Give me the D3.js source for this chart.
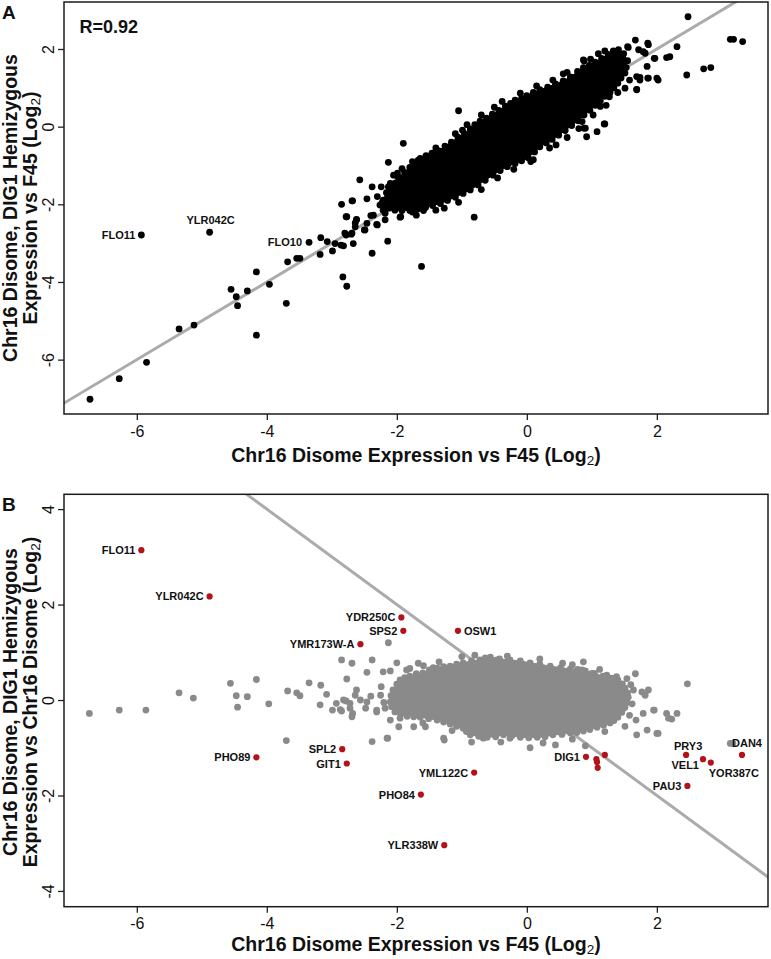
<!DOCTYPE html>
<html><head><meta charset="utf-8">
<script src="https://cdn.jsdelivr.net/npm/d3@7"></script>
<style>body{margin:0;background:#fff}svg{display:block}</style>
</head><body><svg id="c" width="771" height="959"></svg>
<script>
// ---------------- data ----------------
const xTicks = [-6, -4, -2, 0, 2];
const yTicksA = [-6, -4, -2, 0, 2];
const yTicksB = [-4, -2, 0, 2, 4];
const xDomain = [-7.12, 3.71];
const yDomainA = [-7.40, 3.21];
const yDomainB = [-4.33, 4.31];
const corrText = "R=0.92";
const fitA = {slope: 1, intercept: 0};
const fitB = {slope: -1, intercept: 0};

// dense core of panel A (genes on the outline of the overlapping dots, data coords)
const coreA = [[-2.21,-1.89],[-2.16,-1.70],[-2.13,-1.55],[-2.02,-1.45],[-1.98,-1.30],[-1.88,-1.18],[-1.80,-1.05],[-1.70,-0.95],[-1.64,-0.82],[-1.55,-0.75],[-1.46,-0.68],[-1.36,-0.62],[-1.26,-0.50],[-1.16,-0.40],[-1.06,-0.27],[-0.96,-0.18],[-0.87,-0.06],[-0.80,0.05],[-0.72,0.14],[-0.62,0.22],[-0.53,0.32],[-0.43,0.42],[-0.33,0.53],[-0.25,0.60],[-0.18,0.68],[-0.08,0.73],[0.00,0.80],[0.10,0.88],[0.20,0.95],[0.32,1.02],[0.44,1.10],[0.56,1.18],[0.67,1.28],[0.78,1.42],[0.87,1.52],[0.96,1.58],[1.05,1.66],[1.15,1.76],[1.25,1.86],[1.33,1.95],[1.41,1.98],[1.49,1.88],[1.55,1.70],[1.53,1.52],[1.51,1.38],[1.45,1.25],[1.40,1.12],[1.34,1.00],[1.28,0.88],[1.20,0.78],[1.13,0.66],[1.05,0.55],[0.97,0.42],[0.88,0.30],[0.79,0.15],[0.69,0.03],[0.59,-0.10],[0.49,-0.22],[0.39,-0.33],[0.30,-0.42],[0.20,-0.52],[0.12,-0.65],[0.02,-0.80],[-0.08,-0.88],[-0.18,-0.95],[-0.30,-1.03],[-0.41,-1.13],[-0.52,-1.25],[-0.64,-1.38],[-0.75,-1.50],[-0.87,-1.63],[-0.98,-1.72],[-1.10,-1.82],[-1.22,-1.90],[-1.33,-1.98],[-1.45,-2.03],[-1.56,-2.08],[-1.68,-2.12],[-1.80,-2.16],[-1.92,-2.16],[-2.03,-2.15],[-2.12,-2.10],[-2.18,-2.03]];

// individual genes outside the dense core, panel A
const pointsA = [[-6.72,-7.02],[-6.27,-6.49],[-5.85,-6.07],[-5.35,-5.21],[-5.12,-5.11],[-4.16,-5.37],[-4.55,-4.19],[-4.47,-4.38],[-4.45,-4.61],[-4.30,-4.23],[-4.16,-3.74],[-3.96,-4.06],[-3.70,-4.55],[-3.68,-3.48],[-3.54,-3.39],[-3.49,-3.39],[-3.17,-2.86],[-3.07,-2.96],[-2.99,-3.20],[-3.18,-3.29],[-2.95,-3.01],[-2.86,-3.05],[-2.82,-3.07],[-2.85,-2.00],[-2.78,-2.32],[-2.68,-1.91],[-2.78,-2.79],[-2.70,-2.77],[-2.67,-3.01],[-2.62,-2.40],[-2.64,-2.58],[-2.50,-2.66],[-2.46,-2.49],[-2.40,-2.29],[-2.46,-1.86],[-2.38,-1.55],[-2.57,-1.37],[-2.24,-1.55],[-2.10,-1.46],[-2.38,-3.26],[-2.14,-2.95],[-2.31,-2.52],[-2.18,-2.40],[-2.83,-3.87],[-2.77,-4.11],[-2.21,-2.15],[-2.26,-2.02],[-2.18,-2.23],[-1.62,-3.60],[-0.81,-2.33],[-1.27,-2.10],[-1.94,-2.32],[-1.75,-2.19],[-1.59,-2.16],[-1.05,0.41],[-0.99,-0.09],[-1.90,-0.43],[-2.13,-0.92],[-2.69,-1.91],[-2.77,-2.32],[-2.62,-2.39],[-1.99,-1.20],[-1.85,-1.24],[-1.67,-0.86],[-1.56,-0.81],[-1.48,-0.77],[-1.23,-0.56],[-2.23,-1.97],[-2.36,-2.28],[-2.64,-2.48],[-2.49,-2.66],[-2.30,-2.53],[-1.95,-2.33],[-1.76,-2.20],[-1.56,-2.07],[-2.80,-2.74],[-2.69,-2.74],
[-2.30,-1.80],[-2.05,-1.25],[-1.92,-1.08],[-1.76,-0.90],[-1.40,-0.55],[-1.10,-0.18],[-0.92,0.05],[-0.70,0.30],[-0.50,0.50],[-0.38,0.65],[-0.10,0.86],[0.15,1.05],[0.40,1.20],[0.62,1.40],[0.98,1.74],[1.20,1.95],[1.10,1.88],
[-1.70,-2.28],[-1.40,-2.15],[-1.05,-1.95],[-0.70,-1.62],[-0.45,-1.32],[-0.20,-1.10],[0.10,-0.85],[0.35,-0.55],[0.62,-0.28],[0.80,-0.05],[1.02,0.30],[1.22,0.55],[1.40,0.88],[1.58,1.20],
[2.48,2.83],[3.13,2.25],[3.18,2.25],[3.32,2.19],[2.72,1.49],[2.83,1.52],[2.46,1.33],[2.31,2.06],[2.15,1.78],[2.20,1.80],[2.00,1.25],[2.02,1.20],[1.96,1.76],[1.86,1.25],[1.85,1.55],[1.86,2.15],[1.67,2.23],[1.72,1.98],[1.55,2.06],[1.82,1.89],[1.69,1.29],[1.74,1.20],[1.69,0.95],[1.51,0.99],[1.27,0.77],[1.13,0.52],[1.19,0.07],[1.08,-0.13],[0.92,-0.26],[0.88,-0.04],[0.85,0.13],[0.45,-0.47],[0.06,-0.90],[0.56,1.36],[0.88,1.69],[0.87,1.72],[1.87,2.11],[1.56,2.04],[1.79,1.93],[1.97,1.76],[1.38,1.89],[1.26,1.76],[1.87,1.25],[1.74,1.27],[1.69,0.96],[1.20,0.07],[0.90,-0.04]];

const genesA = [
  {gene:"FLO11", x:-5.93, y:-2.79},
  {gene:"YLR042C", x:-4.88, y:-2.72},
  {gene:"FLO10", x:-3.35, y:-2.98}
];

// dense core of panel B
const coreB = [[-2.06,0.21],[-2.00,0.33],[-1.95,0.42],[-1.88,0.47],[-1.80,0.50],[-1.70,0.55],[-1.60,0.57],[-1.50,0.63],[-1.38,0.67],[-1.28,0.70],[-1.18,0.71],[-1.08,0.75],[-0.98,0.78],[-0.85,0.82],[-0.72,0.84],[-0.64,0.88],[-0.56,0.90],[-0.42,0.86],[-0.26,0.84],[-0.10,0.82],[0.05,0.78],[0.20,0.75],[0.36,0.71],[0.52,0.68],[0.67,0.65],[0.78,0.64],[0.90,0.61],[1.04,0.56],[1.17,0.50],[1.30,0.46],[1.40,0.42],[1.47,0.34],[1.51,0.25],[1.55,0.15],[1.56,0.06],[1.54,-0.05],[1.51,-0.15],[1.46,-0.26],[1.40,-0.36],[1.34,-0.43],[1.28,-0.48],[1.18,-0.53],[1.08,-0.57],[0.97,-0.62],[0.87,-0.65],[0.77,-0.68],[0.67,-0.69],[0.54,-0.72],[0.40,-0.73],[0.28,-0.77],[0.16,-0.78],[0.03,-0.79],[-0.10,-0.78],[-0.23,-0.75],[-0.36,-0.73],[-0.48,-0.77],[-0.61,-0.78],[-0.74,-0.76],[-0.87,-0.73],[-0.93,-0.66],[-0.98,-0.59],[-1.08,-0.55],[-1.18,-0.50],[-1.28,-0.46],[-1.38,-0.42],[-1.51,-0.39],[-1.64,-0.36],[-1.74,-0.35],[-1.84,-0.34],[-1.94,-0.30],[-2.03,-0.25],[-2.08,-0.14],[-2.10,-0.04],[-2.09,0.09]];

const pointsB = [[-6.73,-0.28],[-6.27,-0.21],[-5.86,-0.21],[-5.35,0.15],[-5.13,0.04],[-4.56,0.35],[-4.47,0.09],[-4.45,-0.15],[-4.30,0.07],[-4.16,0.43],[-3.97,-0.08],[-3.70,-0.85],[-3.68,0.19],[-3.54,0.15],[-3.49,0.09],[-3.35,0.36],[-3.17,0.31],[-3.18,-0.10],[-3.08,0.12],[-2.99,-0.21],[-2.93,-0.07],[-2.87,-0.20],[-2.85,-0.23],[-2.78,-0.02],[-2.72,-0.07],[-2.68,-0.28],[-2.69,-0.35],[-2.62,0.21],[-2.64,0.10],[-2.48,-0.17],[-2.46,-0.04],[-2.40,0.08],[-2.31,-0.25],[-2.38,-0.87],[-2.14,-0.80],[-2.24,0.28],[-2.13,1.20],[-2.85,0.84],[-2.69,0.77],[-2.38,0.84],[-2.46,0.58],[-2.21,0.59],[-2.10,0.61],[-2.77,0.44],[-2.00,0.78],[-1.85,0.63],[-1.67,0.77],[-1.59,0.72],[-1.44,0.68],[-1.00,0.91],[-1.27,-0.84],[-0.46,0.84],[0.55,0.77],[0.87,0.80],[0.85,0.63],[1.00,0.56],[1.23,0.52],[1.38,0.49],[1.54,0.45],[1.67,0.55],[1.64,0.21],[1.77,0.17],[1.87,0.21],[1.82,0.10],[1.95,-0.21],[1.79,-0.28],[1.68,-0.42],[1.85,-0.63],[2.02,-0.70],[2.18,-0.38],[2.23,-0.40],[2.31,-0.28],[2.47,0.34],[1.69,-0.73],[1.51,-0.55],[1.49,-0.17],[0.90,-0.96],[0.44,-0.94],[0.05,-1.00],[-0.26,-0.80],[-0.67,-0.80],[-2.15,-0.80],[2.15,-0.28],[1.96,-0.21],[2.00,-0.70],[3.13,-0.91],[3.17,-0.91],[-2.82,0.00],[-2.72,-0.17],[-2.56,0.00],[-2.31,-0.21],[-2.18,-0.17],[-2.10,-0.42],[-1.95,-0.38],[-1.97,-0.56],[-1.74,-0.56],[-1.56,-0.56],[-1.28,-0.80],
[-1.80,0.66],[-1.35,0.80],[-0.80,0.94],[-0.30,0.92],[0.20,0.86],[0.70,0.74],[1.12,0.64],[1.60,0.32],[1.62,-0.08],[1.58,-0.32],[1.20,-0.66],[0.70,-0.82],[0.25,-0.90],[-0.40,-0.88],[-0.85,-0.88],[-1.15,-0.64],[-1.60,-0.48],[-2.25,0.10],[-2.20,-0.05]];

const genesB = [
  {gene:"FLO11", x:-5.93, y:3.14},
  {gene:"YLR042C", x:-4.88, y:2.17},
  {gene:"YDR250C", x:-1.93, y:1.73},
  {gene:"SPS2", x:-1.90, y:1.45},
  {gene:"YMR173W-A", x:-2.56, y:1.17},
  {gene:"OSW1", x:-1.06, y:1.45},
  {gene:"PHO89", x:-4.16, y:-1.20},
  {gene:"SPL2", x:-2.84, y:-1.03},
  {gene:"GIT1", x:-2.77, y:-1.33},
  {gene:"YML122C", x:-0.81, y:-1.52},
  {gene:"PHO84", x:-1.63, y:-1.98},
  {gene:"YLR338W", x:-1.27, y:-3.04},
  {gene:"DIG1", x:0.91, y:-1.19},
  {gene:"", x:1.07, y:-1.24},
  {gene:"", x:1.08, y:-1.30},
  {gene:"", x:1.20, y:-1.15},
  {gene:"", x:1.09, y:-1.42},
  {gene:"PRY3", x:2.45, y:-1.15},
  {gene:"VEL1", x:2.71, y:-1.24},
  {gene:"YOR387C", x:2.83, y:-1.31},
  {gene:"DAN4", x:3.31, y:-1.15},
  {gene:"PAU3", x:2.47, y:-1.80}
];

// ---------------- styles / layout ----------------
const FONT = "'Liberation Sans', Arial, Helvetica, sans-serif";
const labelPlace = {
  default: {anchor:"end", dx:-6, dy:4},
  A: {YLR042C:{anchor:"middle", dx:1, dy:-8}, FLO10:{anchor:"end", dx:-7, dy:4}},
  B: {OSW1:{anchor:"start", dx:6, dy:4}, PRY3:{anchor:"middle", dx:2, dy:-5},
      DAN4:{anchor:"middle", dx:5, dy:-8}, VEL1:{anchor:"end", dx:-4, dy:10},
      YOR387C:{anchor:"start", dx:-2, dy:14}}
};

const svg = d3.select("#c");
const L = 64, R = 768;

function drawPanel(cfg) {
  const x = d3.scaleLinear().domain(xDomain).range([L, R]);
  const y = d3.scaleLinear().domain(cfg.yDomain).range([cfg.bottom, cfg.top]);
  const g = svg.append("g");
  const clipId = "clip" + cfg.key;
  g.append("clipPath").attr("id", clipId).append("rect")
    .attr("x", L).attr("y", cfg.top).attr("width", R - L).attr("height", cfg.bottom - cfg.top);
  const plot = g.append("g").attr("clip-path", `url(#${clipId})`);

  // fit line
  const xs = [xDomain[0] - 1, xDomain[1] + 1];
  plot.append("line")
    .attr("x1", x(xs[0])).attr("y1", y(cfg.fit.slope * xs[0] + cfg.fit.intercept))
    .attr("x2", x(xs[1])).attr("y2", y(cfg.fit.slope * xs[1] + cfg.fit.intercept))
    .attr("stroke", "#ababab").attr("stroke-width", 3);

  // dense core and outline genes
  plot.append("path")
    .attr("d", d3.line().x(d => x(d[0])).y(d => y(d[1])).curve(d3.curveLinearClosed)(cfg.core))
    .attr("fill", cfg.color).attr("stroke", cfg.color).attr("stroke-width", 1).attr("stroke-linejoin", "round");
  plot.append("g").selectAll("circle").data(cfg.core.concat(cfg.points)).join("circle")
    .attr("cx", d => x(d[0])).attr("cy", d => y(d[1])).attr("r", 3.4)
    .attr("fill", cfg.color);

  plot.append("g").selectAll("circle").data(cfg.genes).join("circle")
    .attr("cx", d => x(d.x)).attr("cy", d => y(d.y)).attr("r", cfg.geneR)
    .attr("fill", cfg.geneColor);

  plot.append("g").selectAll("text").data(cfg.genes.filter(d => d.gene)).join("text")
    .each(function(d) {
      const p = (labelPlace[cfg.key][d.gene]) || labelPlace.default;
      d3.select(this).attr("x", x(d.x) + p.dx).attr("y", y(d.y) + p.dy)
        .attr("text-anchor", p.anchor);
    })
    .attr("font-family", FONT).attr("font-weight", "bold").attr("font-size", 11)
    .attr("fill", "#111").text(d => d.gene);

  // axes
  const ax = g.append("g").attr("transform", `translate(0,${cfg.bottom})`)
    .call(d3.axisBottom(x).tickValues(xTicks).tickSize(6).tickSizeOuter(0));
  ax.select(".domain").remove();
  ax.selectAll("line").attr("stroke", "#222").attr("stroke-width", 1.3);
  ax.selectAll("text").attr("y", 22.5).attr("dy", 0).attr("font-family", FONT).attr("font-size", 16).attr("fill", "#111")
    .text(d => d < 0 ? "-" + Math.abs(d) : d);

  const ay = g.append("g").attr("transform", `translate(${L},0)`)
    .call(d3.axisLeft(y).tickValues(cfg.yTicks).tickSize(6).tickSizeOuter(0));
  ay.select(".domain").remove();
  ay.selectAll("line").attr("stroke", "#222").attr("stroke-width", 1.3);
  ay.selectAll("text").attr("transform", "rotate(-90)").attr("x", 0).attr("y", -10.5).attr("dy", 0)
    .attr("text-anchor", "middle").attr("font-family", FONT).attr("font-size", 16).attr("fill", "#111")
    .text(d => d < 0 ? "-" + Math.abs(d) : d);

  // frame
  g.append("rect").attr("x", L).attr("y", cfg.top).attr("width", R - L).attr("height", cfg.bottom - cfg.top)
    .attr("fill", "none").attr("stroke", "#1a1a1a").attr("stroke-width", 1.5);

  // x label
  const xl = g.append("text").attr("x", (L + R) / 2).attr("y", cfg.xLabelY).attr("text-anchor", "middle")
    .attr("font-family", FONT).attr("font-weight", "bold").attr("font-size", 19.5).attr("fill", "#111");
  addLog2(xl, "Chr16 Disome Expression vs F45 (Log");

  // y label
  const cy = cfg.yLabelCenter;
  g.append("text").attr("transform", `translate(16.5,${cy}) rotate(-90)`).attr("text-anchor", "middle")
    .attr("font-family", FONT).attr("font-weight", "bold").attr("font-size", 19.5).attr("fill", "#111")
    .text("Chr16 Disome, DIG1 Hemizygous");
  const y2 = g.append("text").attr("transform", `translate(36.5,${cy}) rotate(-90)`).attr("text-anchor", "middle")
    .attr("font-family", FONT).attr("font-weight", "bold").attr("font-size", 19.5).attr("fill", "#111");
  addLog2(y2, cfg.yLine2);

  // panel letter
  g.append("text").attr("x", 2).attr("y", cfg.letterY).attr("font-family", FONT).attr("font-weight", "bold")
    .attr("font-size", 19).attr("fill", "#111").text(cfg.letter);
}

function addLog2(sel, prefix) {
  sel.append("tspan").text(prefix);
  sel.append("tspan").attr("font-size", "70%").attr("font-weight", "normal").attr("dy", 3).text("2");
  sel.append("tspan").attr("dy", -3).text(")");
}

drawPanel({key:"A", top:2, bottom:414, yDomain:yDomainA, yTicks:yTicksA, fit:fitA,
  points:pointsA, core:coreA, color:"#000", genes:genesA, geneColor:"#000", geneR:3.4,
  xLabelY:461.5, yLabelCenter:208, yLine2:"Expression vs F45 (Log", letter:"A", letterY:19.3});

drawPanel({key:"B", top:494.3, bottom:906.7, yDomain:yDomainB, yTicks:yTicksB, fit:fitB,
  points:pointsB, core:coreB, color:"#8a8a8a", genes:genesB, geneColor:"#b3121a", geneR:3.1,
  xLabelY:951, yLabelCenter:702, yLine2:"Expression vs Chr16 Disome (Log", letter:"B", letterY:510.7});

svg.append("text").attr("x", 79.5).attr("y", 32.7).attr("font-family", FONT).attr("font-weight", "bold")
  .attr("font-size", 18).attr("fill", "#111").text(corrText);
</script></body></html>
